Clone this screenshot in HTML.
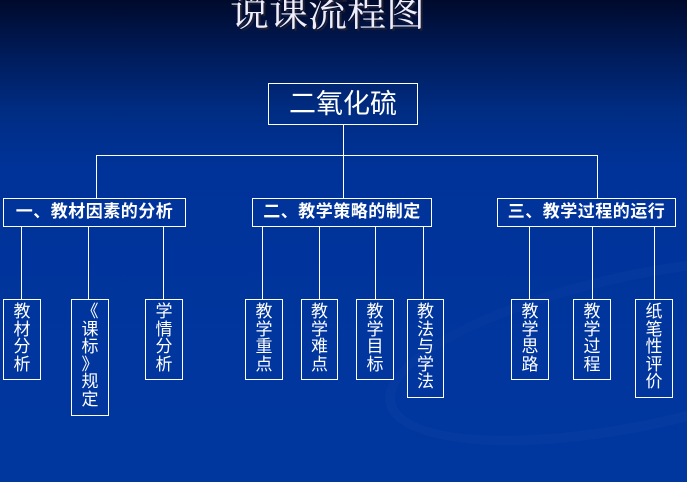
<!DOCTYPE html>
<html><head><meta charset="utf-8"><style>
html{background:#00379f}
html,body{margin:0;padding:0}
body{width:687px;height:434px;position:relative;overflow:hidden;
background:linear-gradient(180deg,#000a2c 0px,#001d5e 60px,#002c82 110px,#00339a 170px,#00379f 434px);
font-family:"Liberation Sans","Noto Sans CJK SC",sans-serif;color:#fff}
.b{position:absolute;border:1px solid #fff;box-sizing:border-box}
.l{position:absolute;background:#fff}
.t2{font-size:17px;font-weight:bold;text-align:center;line-height:26px;white-space:nowrap;letter-spacing:0.5px}
.v{font-size:17px;text-align:center;line-height:17.5px;padding-top:3px}
.sw{position:absolute;border-radius:50%;}
</style></head><body>
<div class="sw" style="left:380px;top:270px;width:500px;height:140px;border:10px solid rgba(80,120,200,0.06);transform:rotate(-12deg)"></div>
<div style="position:absolute;left:230px;top:-9px;width:200px;font-family:'Liberation Serif','Noto Serif CJK SC',serif;font-size:39px;line-height:46px;color:#eef;text-shadow:2px 2px 1px #223;white-space:nowrap">说课流程图</div>

<div class="b" style="left:268px;top:83px;width:150px;height:42px;text-align:center;font-size:27px;line-height:40px">二氧化硫</div>
<div class="l" style="left:343px;top:125px;width:1px;height:73px"></div>
<div class="l" style="left:96px;top:155px;width:502px;height:1px"></div>
<div class="l" style="left:96px;top:155px;width:1px;height:43px"></div>
<div class="l" style="left:597px;top:155px;width:1px;height:43px"></div>

<div class="b t2" style="left:3px;top:198px;width:183px;height:29px">一、教材因素的分析</div>
<div class="b t2" style="left:252px;top:198px;width:180px;height:29px">二、教学策略的制定</div>
<div class="b t2" style="left:497px;top:198px;width:179px;height:29px">三、教学过程的运行</div>

<div class="l" style="left:21px;top:227px;width:1px;height:72px"></div>
<div class="l" style="left:88px;top:227px;width:1px;height:72px"></div>
<div class="l" style="left:163px;top:227px;width:1px;height:72px"></div>
<div class="l" style="left:262px;top:227px;width:1px;height:72px"></div>
<div class="l" style="left:319px;top:227px;width:1px;height:72px"></div>
<div class="l" style="left:375px;top:227px;width:1px;height:72px"></div>
<div class="l" style="left:423px;top:227px;width:1px;height:72px"></div>
<div class="l" style="left:529px;top:227px;width:1px;height:72px"></div>
<div class="l" style="left:592px;top:227px;width:1px;height:72px"></div>
<div class="l" style="left:654px;top:227px;width:1px;height:72px"></div>

<div class="b v" style="left:3px;top:299px;width:38px;height:81px">教<br>材<br>分<br>析</div>
<div class="b v" style="left:71px;top:299px;width:38px;height:117px">《<br>课<br>标<br>》<br>规<br>定</div>
<div class="b v" style="left:145px;top:299px;width:38px;height:81px">学<br>情<br>分<br>析</div>
<div class="b v" style="left:245px;top:299px;width:38px;height:81px">教<br>学<br>重<br>点</div>
<div class="b v" style="left:301px;top:299px;width:37px;height:81px">教<br>学<br>难<br>点</div>
<div class="b v" style="left:356px;top:299px;width:38px;height:81px">教<br>学<br>目<br>标</div>
<div class="b v" style="left:407px;top:299px;width:37px;height:99px">教<br>法<br>与<br>学<br>法</div>
<div class="b v" style="left:511px;top:299px;width:38px;height:81px">教<br>学<br>思<br>路</div>
<div class="b v" style="left:573px;top:299px;width:38px;height:81px">教<br>学<br>过<br>程</div>
<div class="b v" style="left:635px;top:299px;width:38px;height:99px">纸<br>笔<br>性<br>评<br>价</div>
</body></html>
